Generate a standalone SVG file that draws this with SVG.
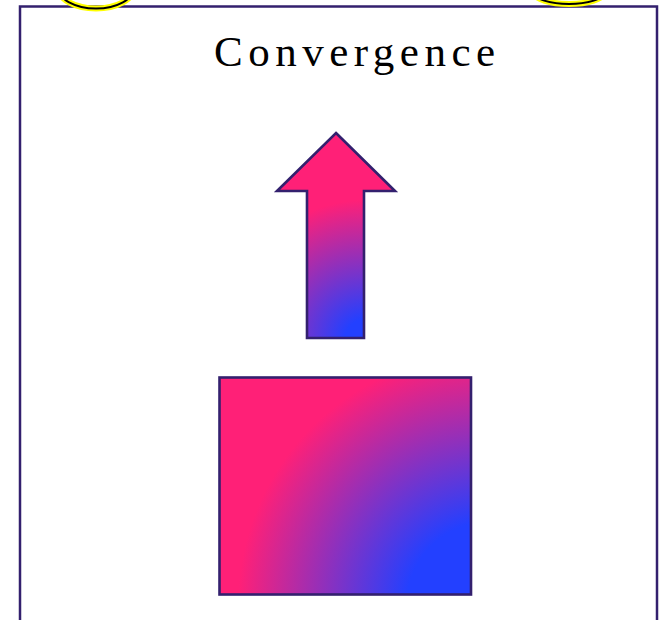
<svg xmlns="http://www.w3.org/2000/svg" width="659" height="620" viewBox="0 0 659 620">
<style>
.frame{fill:#ffffff;stroke:#33206e;stroke-width:2.5}
.shape{stroke:#33206e;stroke-width:2.6;stroke-linejoin:miter}
.halo{fill:none;stroke:#ffff00;stroke-width:6}
.ring{fill:none;stroke:#000000;stroke-width:2}
.title{font-family:"Liberation Serif","Times New Roman",serif;font-size:43px;letter-spacing:5.5px;fill:#000000}
</style>
<defs>
<radialGradient id="gArrow" gradientUnits="userSpaceOnUse" cx="366" cy="340" r="140">
<stop offset="0.15" stop-color="#2340ff"/>
<stop offset="1" stop-color="#ff2077"/>
</radialGradient>
<radialGradient id="gBox" gradientUnits="userSpaceOnUse" cx="490" cy="605" r="252">
<stop offset="0.33" stop-color="#2340ff"/>
<stop offset="1" stop-color="#ff2077"/>
</radialGradient>
</defs>
<rect width="659" height="620" fill="#ffffff"/>
<g id="frame">
<rect class="frame" x="20" y="6.5" width="637" height="700"/>
</g>
<g id="marker-left">
<ellipse class="halo" cx="96" cy="-12.5" rx="38" ry="21"/>
<ellipse class="ring" cx="96" cy="-12.5" rx="38" ry="21"/>
</g>
<g id="marker-right">
<ellipse class="halo" cx="569" cy="-7.5" rx="35" ry="11.5"/>
<ellipse class="ring" cx="569" cy="-7.5" rx="35" ry="11.5"/>
</g>
<g id="title">
<text class="title" x="214" y="66">Convergence</text>
</g>
<g id="arrow">
<polygon class="shape" fill="url(#gArrow)" points="336,133 395,191 364,191 364,338 307,338 307,191 277,191"/>
</g>
<g id="box">
<rect class="shape" fill="url(#gBox)" x="219.5" y="377.5" width="251.5" height="217"/>
</g>
<g id="connectors"></g>
</svg>
